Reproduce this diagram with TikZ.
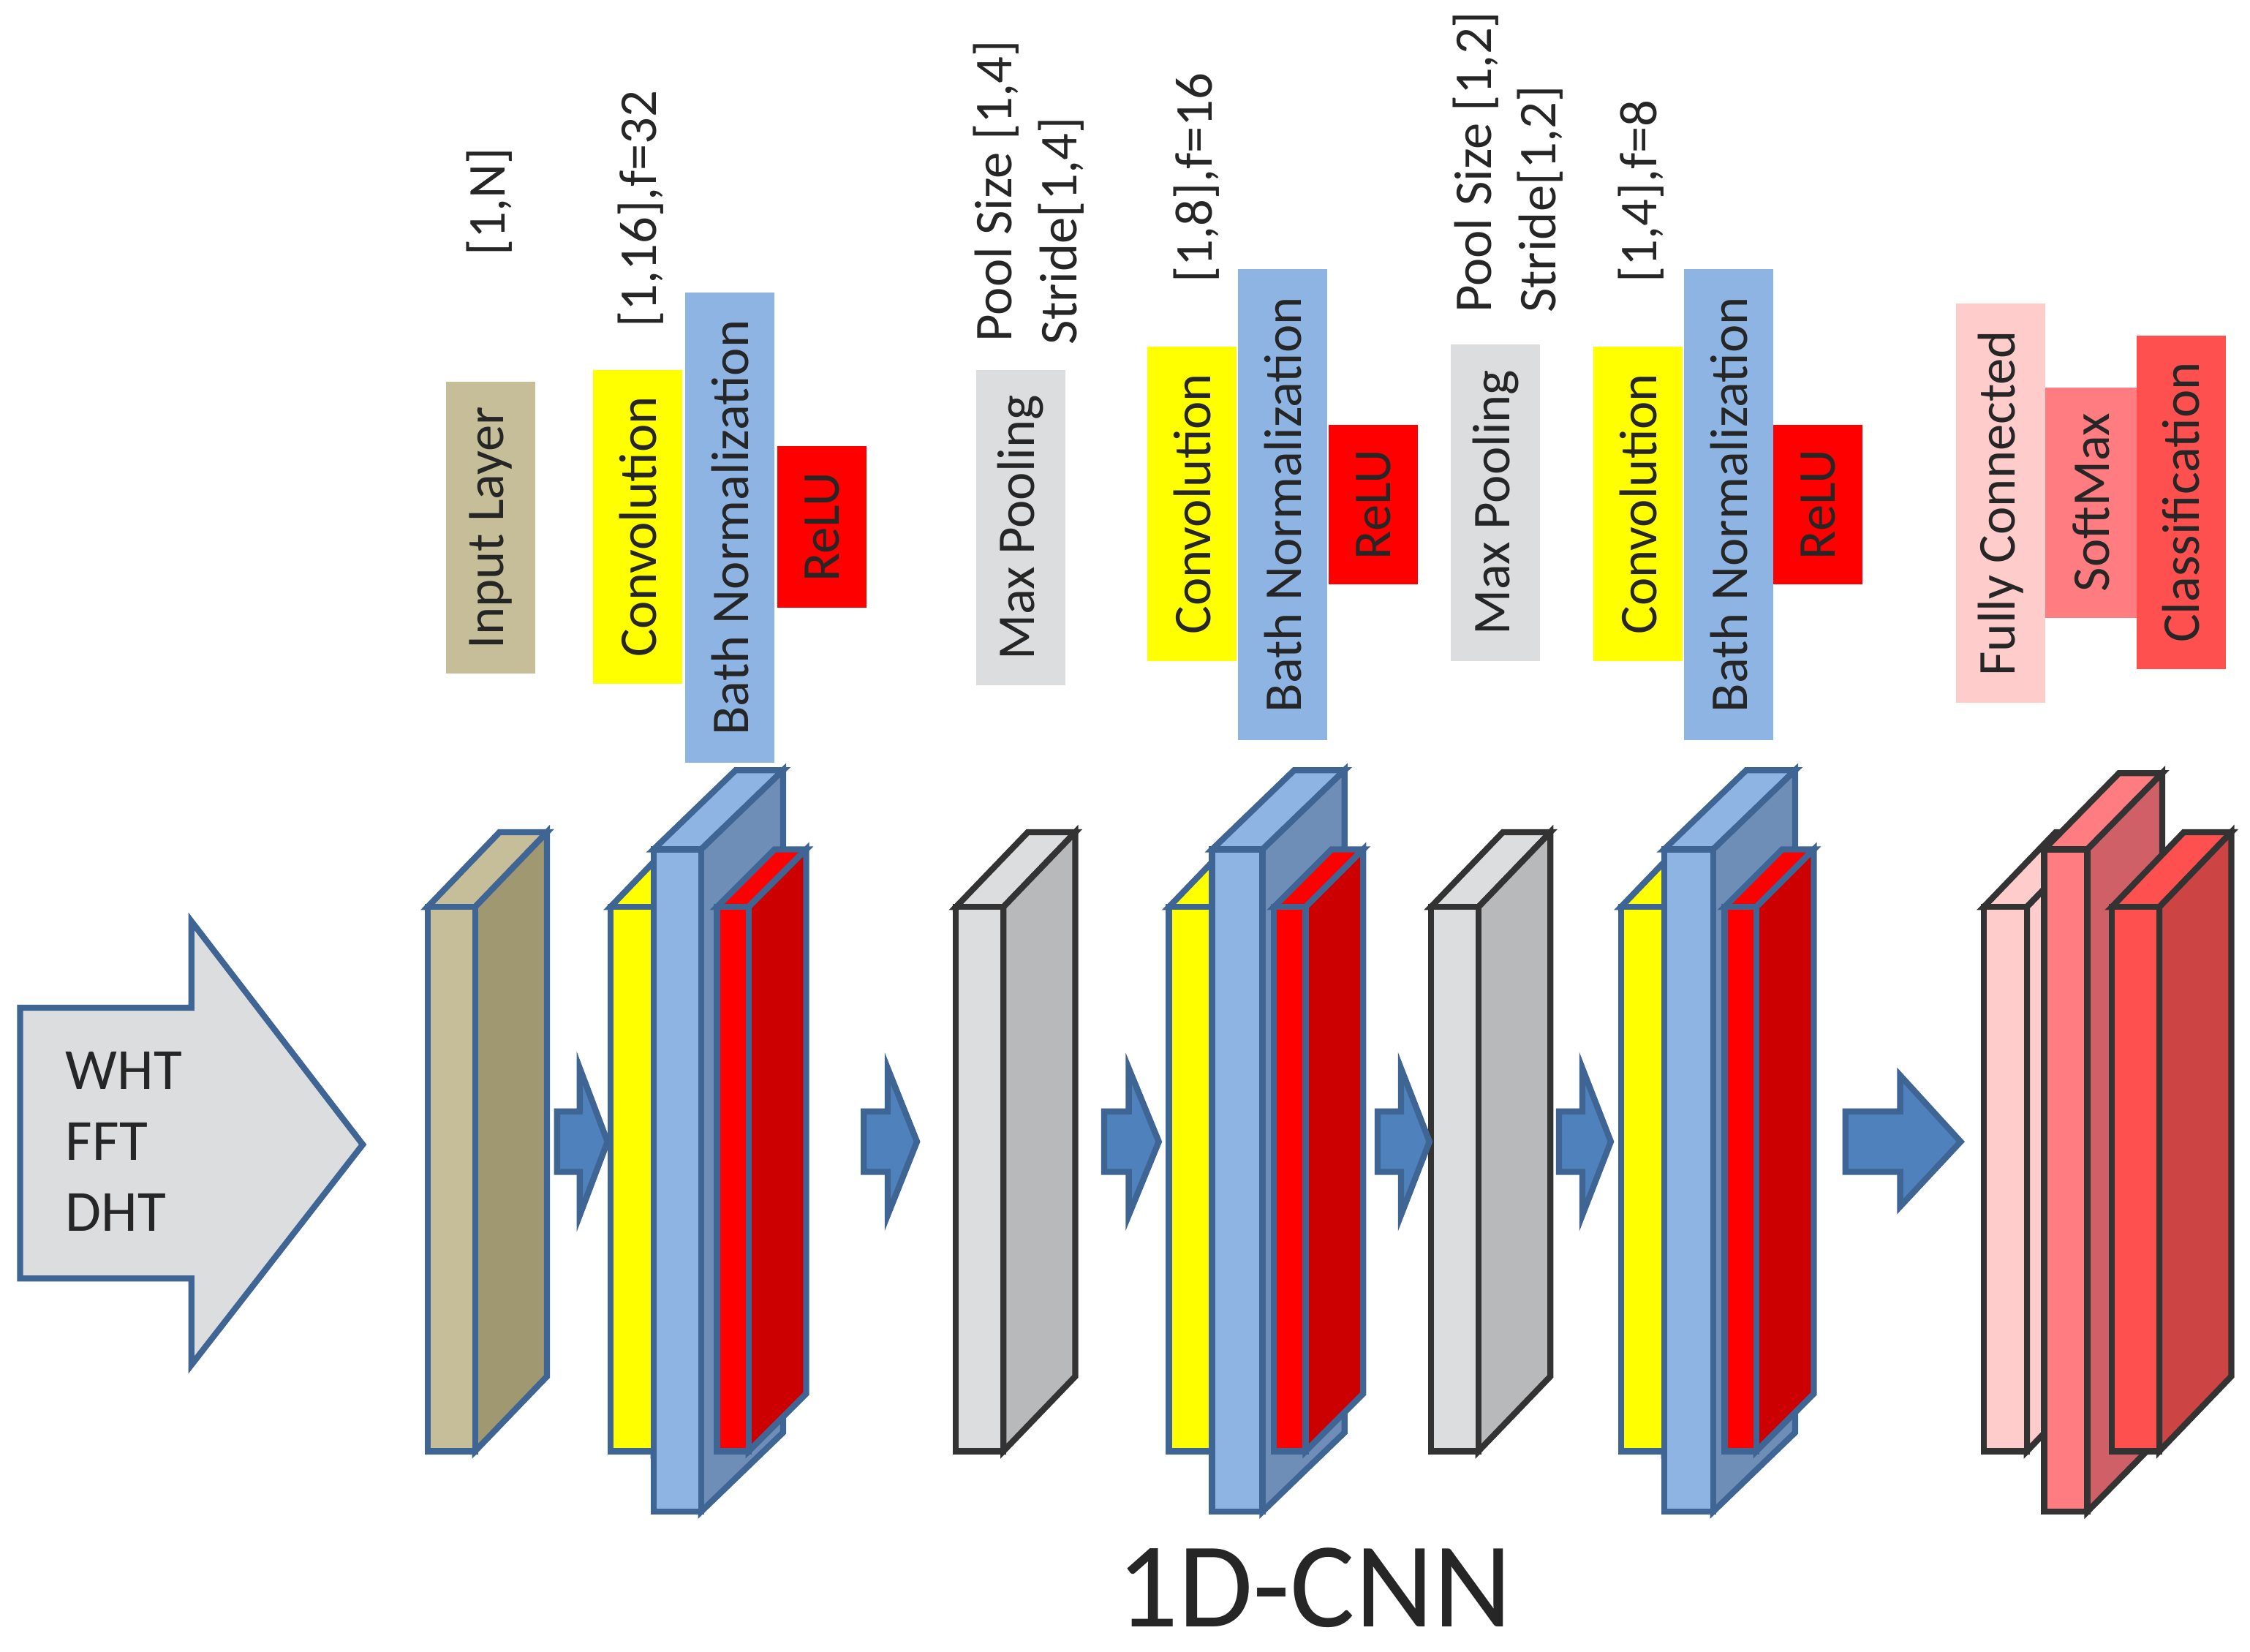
\documentclass[tikz,border=0pt]{standalone}
\usepackage{fontspec}
\setmainfont{Carlito}
\begin{document}
\newcommand\slab[9]{%
 \filldraw[edge=#9,fill=#8] (#1,#2) -- ({#1+#5},{#2+#6}) -- ({#1+#3+#5},{#2+#6}) -- ({#1+#3},#2) -- cycle;
 \filldraw[edge=#9,fill=#7] ({#1+#3},#2) -- ({#1+#3+#5},{#2+#6}) -- ({#1+#3+#5},{#4+#6}) -- ({#1+#3},#4) -- cycle;
 \filldraw[edge=#9,fill=#8] (#1,#2) rectangle ({#1+#3},#4);}
\newcommand\sarrow[3]{% x1 x2 yc
 \filldraw[edge=arrE,fill=arrF] (#1,{#3-21}) -- ({#1+0.45*(#2-#1)},{#3-21}) -- ({#1+0.45*(#2-#1)},{#3-51}) -- (#2,#3) -- ({#1+0.45*(#2-#1)},{#3+51}) -- ({#1+0.45*(#2-#1)},{#3+21}) -- (#1,{#3+21}) -- cycle;}
\definecolor{tan}{HTML}{C6BE98}\definecolor{tanS}{HTML}{A09870}
\definecolor{bnF}{HTML}{8EB4E3}\definecolor{bnS}{HTML}{6E8EB8}
\definecolor{rlF}{HTML}{FF0000}\definecolor{rlT}{HTML}{FF3333}\definecolor{rlS}{HTML}{CC0000}
\definecolor{gyF}{HTML}{DCDDDF}\definecolor{gyS}{HTML}{B8B9BB}
\definecolor{yl}{HTML}{FFFF00}
\definecolor{fcF}{HTML}{FFCCCC}\definecolor{smF}{HTML}{FF7C80}\definecolor{smS}{HTML}{D06068}
\definecolor{clF}{HTML}{FF5050}\definecolor{clS}{HTML}{CC4444}
\definecolor{bE}{HTML}{3F6594}\definecolor{kE}{HTML}{333333}
\definecolor{arrE}{HTML}{3F6594}\definecolor{arrF}{HTML}{4F81BD}
\begin{tikzpicture}[x=0.01cm,y=-0.01cm,
 edge/.style={draw=#1,line width=1.2pt,line join=miter},
 lbl/.style={rotate=90,font=\fontsize{10.5pt}{12pt}\selectfont,inner sep=0pt,text=black!85},
 box/.style={fill=#1,draw=none},
 top/.style={rotate=90,anchor=west,font=\fontsize{10.5pt}{12pt}\selectfont,inner sep=0pt,text=black!85}]
\useasboundingbox (0,0) rectangle (1563,1147);
% big arrow
\filldraw[edge=bE,fill=gyF] (14,700) -- (133,700) -- (133,640) -- (252,795) -- (133,948) -- (133,888) -- (14,888) -- cycle;
\node[anchor=west,font=\fontsize{11.5pt}{14pt}\selectfont,align=left,inner sep=0pt,text=black!85] (in) at (45,793) {WHT\\[0pt]FFT\\[0pt]DHT};
% slabs
\slab{297}{630}{33}{1008}{50}{-52}{tanS}{tan}{bE}
\slab{424}{630}{30}{1008}{50}{-52}{yl}{yl}{bE}
\slab{454}{590}{33}{1050}{57}{-55}{bnS}{bnF}{bE}
\slab{498}{630}{22}{1008}{40}{-40}{rlS}{rlF}{bE}
\slab{664}{630}{33}{1008}{50}{-52}{gyS}{gyF}{kE}
\slab{812}{630}{30}{1008}{50}{-52}{yl}{yl}{bE}
\slab{842}{590}{35}{1050}{57}{-55}{bnS}{bnF}{bE}
\slab{885}{630}{22}{1008}{40}{-40}{rlS}{rlF}{bE}
\slab{994}{630}{33}{1008}{50}{-52}{gyS}{gyF}{kE}
\slab{1126}{630}{30}{1008}{50}{-52}{yl}{yl}{bE}
\slab{1156}{590}{34}{1050}{57}{-55}{bnS}{bnF}{bE}
\slab{1198}{630}{22}{1008}{40}{-40}{rlS}{rlF}{bE}
\slab{1378}{630}{30}{1008}{50}{-52}{fcF}{fcF}{kE}
\slab{1420}{590}{30}{1050}{52}{-53}{smS}{smF}{kE}
\slab{1467}{630}{33}{1008}{50}{-52}{clS}{clF}{kE}
% small arrows
\sarrow{387}{422}{793}
\sarrow{600}{637}{793}
\sarrow{767}{805}{793}
\sarrow{957}{993}{793}
\sarrow{1083}{1119}{793}
\filldraw[edge=arrE,fill=arrF] (1282,772) -- (1320,772) -- (1320,747) -- (1362,793) -- (1320,838) -- (1320,814) -- (1282,814) -- cycle;
% label boxes
\newcommand\lb[6]{\fill[#5] (#1,#2) rectangle (#3,#4); \node[lbl] at ({(#1+#3)/2},{(#2+#4)/2}) {#6};}
\lb{310}{265}{372}{468}{tan}{Input Layer}
\lb{412}{257}{474}{475}{yl}{Convolution}
\lb{476}{203}{538}{530}{bnF}{Bath Normalization}
\lb{540}{310}{602}{422}{rlF}{ReLU}
\lb{678}{257}{740}{476}{gyF}{Max Pooling}
\lb{797}{241}{859}{459}{yl}{Convolution}
\lb{860}{187}{922}{514}{bnF}{Bath Normalization}
\lb{923}{295}{985}{406}{rlF}{ReLU}
\lb{1008}{239}{1070}{459}{gyF}{Max Pooling}
\lb{1107}{241}{1169}{459}{yl}{Convolution}
\lb{1170}{187}{1232}{514}{bnF}{Bath Normalization}
\lb{1232}{295}{1294}{406}{rlF}{ReLU}
\lb{1359}{211}{1421}{488}{fcF}{Fully Connected}
\lb{1421}{269}{1484}{429}{smF}{SoftMax}
\lb{1484}{233}{1546}{465}{clF}{Classification}
% top labels
\node[top] (t1) at (340,178) {[1,N]};
\node[top] (t2) at (445,228) {[1,16],f=32};
\node[top] (t3) at (692,238) {Pool Size [1,4]};
\node[top] (t4) at (737,240) {Stride[1,4]};
\node[top] (t5) at (831,197) {[1,8],f=16};
\node[top] (t6) at (1025,218) {Pool Size [1,2]};
\node[top] (t7) at (1070,218) {Stride[1,2]};
\node[top] (t8) at (1140,197) {[1,4],f=8};
\node[font=\fontsize{24pt}{28pt}\selectfont,text=black!85,inner sep=0pt] (title) at (913,1103) {1D-CNN};
\end{tikzpicture}
\end{document}
